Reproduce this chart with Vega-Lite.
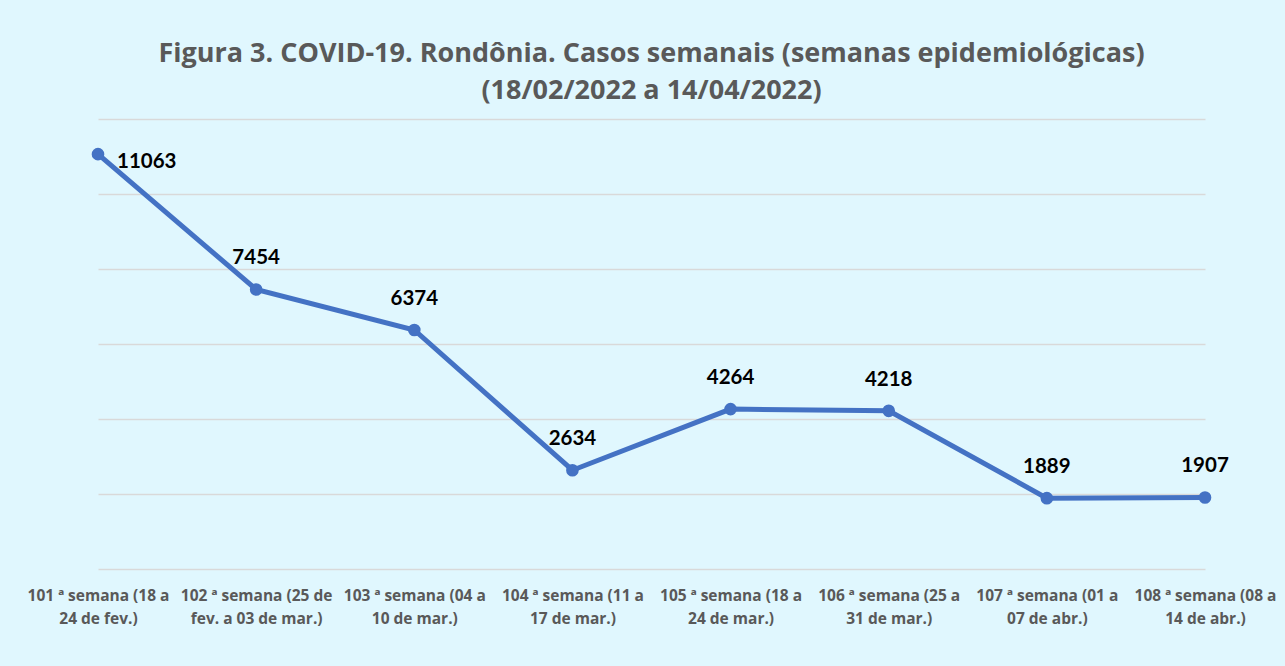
{
  "$schema": "https://vega.github.io/schema/vega-lite/v6.json",
  "autosize": "none",
  "width": 1107,
  "height": 450,
  "padding": {"left": 98, "top": 119, "right": 80, "bottom": 97},
  "background": "#E0F7FE",
  "title": {
    "text": ["Figura 3. COVID-19. Rondônia. Casos semanais (semanas epidemiológicas)", "(18/02/2022 a 14/04/2022)"],
    "font": "Open Sans",
    "fontSize": 27,
    "fontWeight": "bold",
    "color": "#595959",
    "lineHeight": 37,
    "anchor": "middle",
    "offset": 14
  },
  "config": {
    "view": {"stroke": null},
    "font": "Lato"
  },
  "data": {
    "values": [
      {"semana": "101 ª semana (18 a\n24 de fev.)", "casos": 11063},
      {"semana": "102 ª semana (25 de\nfev. a  03 de mar.)", "casos": 7454},
      {"semana": "103 ª semana (04 a\n10 de mar.)", "casos": 6374},
      {"semana": "104 ª semana (11 a\n17 de mar.)", "casos": 2634},
      {"semana": "105 ª semana (18 a\n24 de mar.)", "casos": 4264},
      {"semana": "106 ª semana (25 a\n31 de mar.)", "casos": 4218},
      {"semana": "107 ª semana (01 a\n07 de abr.)", "casos": 1889},
      {"semana": "108 ª semana (08 a\n14 de abr.)", "casos": 1907}
    ]
  },
  "encoding": {
    "x": {
      "field": "semana",
      "type": "ordinal",
      "sort": null,
      "scale": {"type": "point", "padding": 0},
      "axis": {
        "title": null,
        "labelAngle": 0,
        "labelExpr": "split(datum.label, '\\n')",
        "labelFont": "Open Sans",
        "labelFontSize": 15.5,
        "labelFontWeight": "bold",
        "labelColor": "#595959",
        "labelLineHeight": 23.5,
        "labelPadding": 19,
        "labelLimit": 0,
        "domain": false,
        "ticks": false,
        "grid": false
      }
    },
    "y": {
      "field": "casos",
      "type": "quantitative",
      "scale": {"domain": [0, 12000], "nice": false},
      "axis": {
        "title": null,
        "values": [0, 2000, 4000, 6000, 8000, 10000, 12000],
        "labels": false,
        "ticks": false,
        "domain": false,
        "grid": true,
        "gridColor": "#D9D9D9",
        "gridWidth": 1.5
      }
    }
  },
  "layer": [
    {
      "mark": {"type": "line", "color": "#4472C4", "strokeWidth": 5, "point": {"filled": true, "size": 160, "color": "#4472C4"}}
    },
    {
      "transform": [{"filter": "datum.casos > 10000"}],
      "mark": {"type": "text", "align": "left", "baseline": "alphabetic", "dx": 19, "dy": 14, "font": "Lato", "fontSize": 20.5, "fontWeight": "bold", "color": "#000000"},
      "encoding": {"text": {"field": "casos", "type": "quantitative", "format": "d"}}
    },
    {
      "transform": [{"filter": "datum.casos <= 10000"}],
      "mark": {"type": "text", "align": "center", "baseline": "alphabetic", "dy": -25, "font": "Lato", "fontSize": 20.5, "fontWeight": "bold", "color": "#000000"},
      "encoding": {"text": {"field": "casos", "type": "quantitative", "format": "d"}}
    }
  ]
}
